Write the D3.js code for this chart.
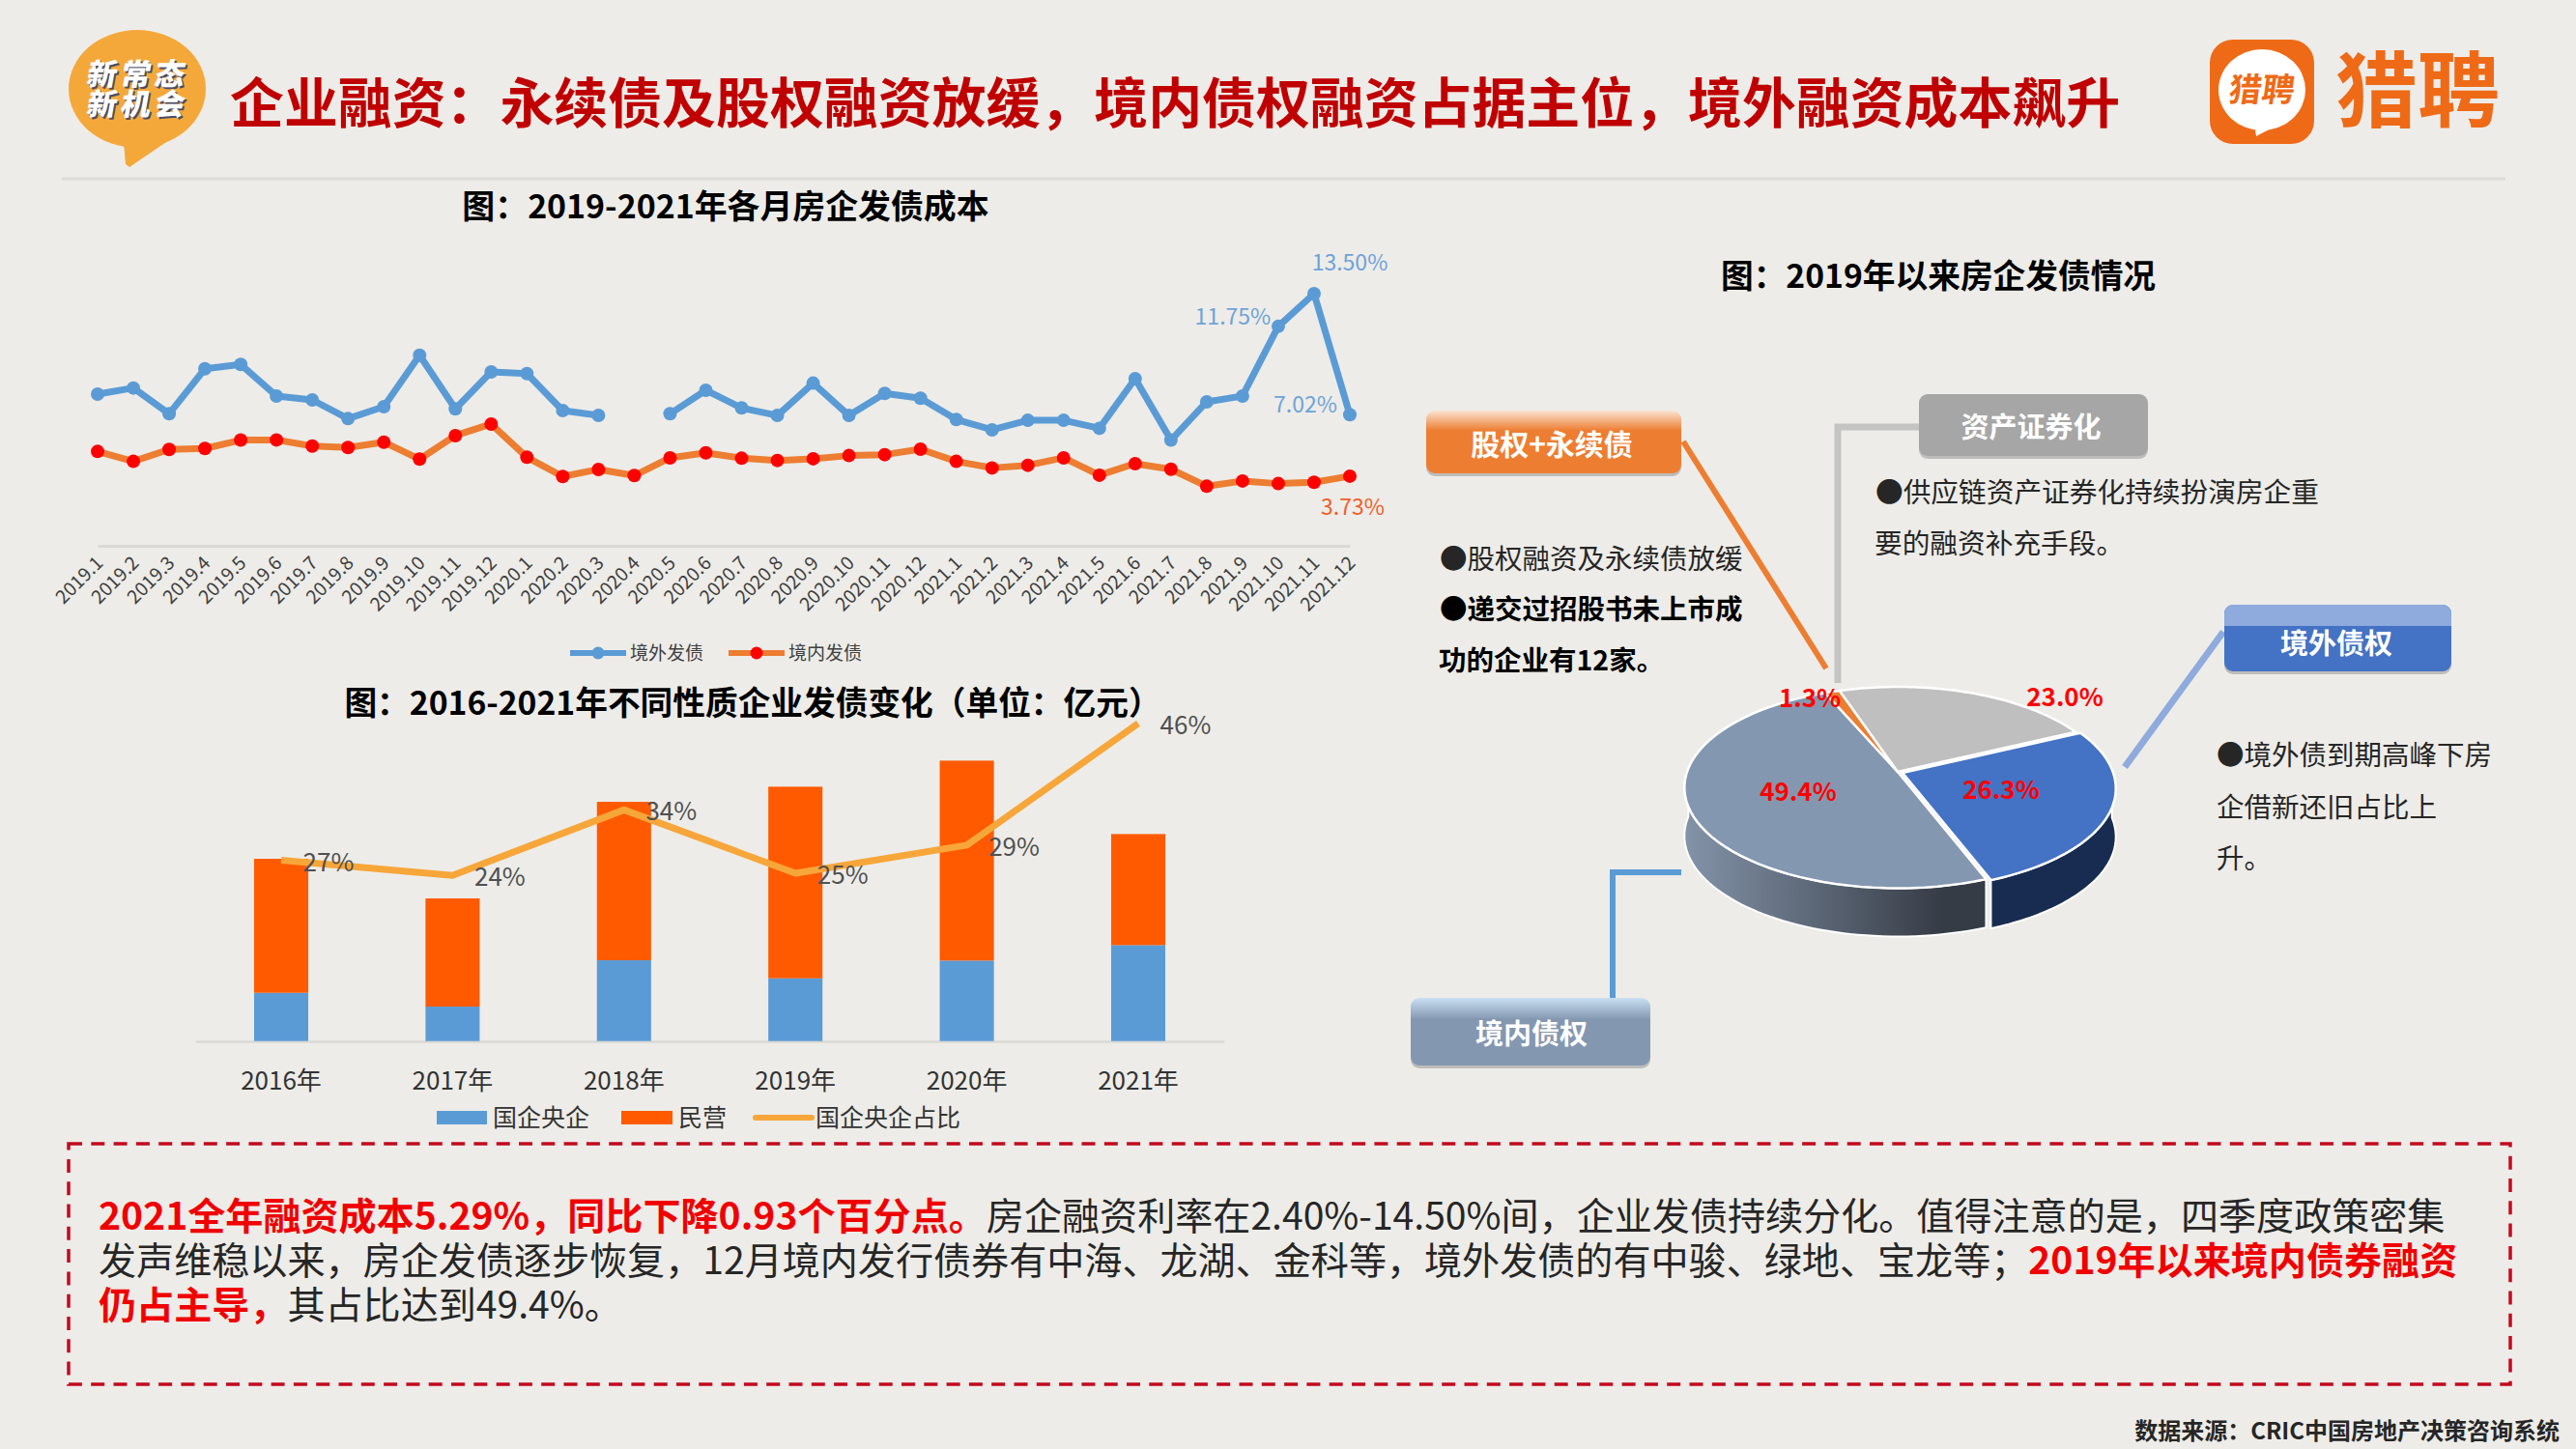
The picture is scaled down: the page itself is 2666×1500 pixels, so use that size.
<!DOCTYPE html>
<html>
<head>
<meta charset="utf-8">
<script src="https://cdnjs.cloudflare.com/ajax/libs/d3/7.8.5/d3.min.js"></script>
<style>
  html, body { margin: 0; padding: 0; background: #edece8; }
  svg { display: block; }
  text { font-family: "Noto Sans CJK SC", sans-serif; }
</style>
</head>
<body>
<svg id="chart" width="2666" height="1500"></svg>
<script>
/// data ///
const months = [
  "2019.1","2019.2","2019.3","2019.4","2019.5","2019.6","2019.7","2019.8","2019.9","2019.10","2019.11","2019.12",
  "2020.1","2020.2","2020.3","2020.4","2020.5","2020.6","2020.7","2020.8","2020.9","2020.10","2020.11","2020.12",
  "2021.1","2021.2","2021.3","2021.4","2021.5","2021.6","2021.7","2021.8","2021.9","2021.10","2021.11","2021.12"
];
const overseasCost = [
  8.12,8.45,7.07,9.48,9.71,8.02,7.81,6.81,7.45,10.2,7.33,9.31,
  9.22,7.24,6.98,null,7.07,8.33,7.38,6.98,8.71,6.98,8.16,7.9,
  6.76,6.21,6.72,6.72,6.29,8.95,5.66,7.71,8.02,11.75,13.5,7.02
];
const domesticCost = [
  5.05,4.52,5.16,5.21,5.66,5.67,5.34,5.26,5.55,4.64,5.9,6.52,
  4.74,3.71,4.09,3.76,4.71,4.98,4.69,4.57,4.66,4.83,4.88,5.17,
  4.52,4.17,4.31,4.71,3.78,4.4,4.1,3.19,3.47,3.33,3.4,3.73
];
const years = ["2016年","2017年","2018年","2019年","2020年","2021年"];
const stateIssue = [1500,1070,2510,1950,2500,2980];
const privateIssue = [4160,3360,4920,5950,6210,3450];
const stateShare = [27,24.9,34,25.2,29.1,46];
const stateShareLabels = ["27%","24%","34%","25%","29%","46%"];
const pieNames = ["境内债权","股权+永续债","资产证券化","境外债权"];
const pieShares = [49.4,1.3,23.0,26.3];

/// colours ///
const bg = "#edece8";
const blue = "#5b9bd5", orange = "#ed7d31", red = "#ff0000", barOrange = "#ff5a00", lineAmber = "#f7a63a";
const pieColors = ["#8497b0", orange, "#bfbfbf", "#4472c4"];

const svg = d3.select("#chart");
svg.append("rect").attr("width", 2666).attr("height", 1500).attr("fill", bg);
const defs = svg.append("defs");

const label = (parent, x, y, str, size, fill, anchor = "middle", weight = 400) =>
  parent.append("text")
    .attr("x", x).attr("y", y).attr("dy", "0.35em")
    .attr("text-anchor", anchor).attr("font-size", size)
    .attr("font-weight", weight).attr("fill", fill)
    .text(str);

/// header ///
const header = svg.append("g");
header.append("ellipse").attr("cx", 142).attr("cy", 92).attr("rx", 71).attr("ry", 61).attr("fill", "#f5a83a");
header.append("path").attr("d", "M128,148 L130,170 L134,173 L178,143 Z").attr("fill", "#f5a83a");
[["新常态", 77], ["新机会", 108]].forEach(([s, y]) => {
  const t = header.append("g").attr("transform", `translate(143,${y}) skewX(-10)`);
  label(t, 2, 2, s, 31, "#4a4f6a", "middle", 900).attr("letter-spacing", 4);
  label(t, 0, 0, s, 31, "#ffffff", "middle", 900).attr("letter-spacing", 4);
});
label(header, 238, 107, "企业融资：永续债及股权融资放缓，境内债权融资占据主位，境外融资成本飙升", 55.9, "#c00000", "start", 700);
header.append("line").attr("x1", 64).attr("x2", 2593).attr("y1", 185).attr("y2", 185)
  .attr("stroke", "#dcdbd7").attr("stroke-width", 3);

// logo
const logoOrange = "#ef6a17";
header.append("rect").attr("x", 2287).attr("y", 41).attr("width", 108).attr("height", 108).attr("rx", 24).attr("fill", logoOrange);
header.append("ellipse").attr("cx", 2341).attr("cy", 93).attr("rx", 45).attr("ry", 42).attr("fill", "#fff");
header.append("path").attr("d", "M2333,128 L2335,141 L2360,128 Z").attr("fill", "#fff");
const logoInner = header.append("g").attr("transform", "translate(2341,93) skewX(-8)");
label(logoInner, 0, 0, "猎聘", 34, logoOrange, "middle", 700);
label(header, 2502, 95, "猎聘", 85, logoOrange, "middle", 700);

/// line chart: monthly cost ///
label(svg, 751, 214, "图：2019-2021年各月房企发债成本", 33.9, "#000", "middle", 700);

const xMonth = d3.scalePoint().domain(months).range([101, 1397]);
const yCost = d3.scaleLinear().domain([0, 13.5]).range([565, 304]);

svg.append("g")
  .attr("transform", "translate(0,565)")
  .call(d3.axisBottom(xMonth).tickSize(0).tickPadding(10))
  .call(g => g.select(".domain").attr("stroke", "#d9d9d6").attr("stroke-width", 3))
  .call(g => g.selectAll(".tick text")
    .attr("font-family", "Noto Sans CJK SC").attr("font-size", 19.5).attr("fill", "#404040")
    .attr("text-anchor", "end").attr("dx", -9).attr("dy", 8)
    .attr("transform", "rotate(-45)"));

const costLine = d3.line()
  .defined(d => d.v !== null)
  .x(d => xMonth(d.m)).y(d => yCost(d.v));

const drawCost = (values, lineColor, dotColor) => {
  const rows = months.map((m, i) => ({ m, v: values[i] }));
  svg.append("path").datum(rows)
    .attr("fill", "none").attr("stroke", lineColor).attr("stroke-width", 7)
    .attr("stroke-linejoin", "round").attr("d", costLine);
  svg.append("g").selectAll("circle")
    .data(rows.filter(d => d.v !== null))
    .join("circle")
      .attr("cx", d => xMonth(d.m)).attr("cy", d => yCost(d.v))
      .attr("r", 7).attr("fill", dotColor);
};
drawCost(overseasCost, blue, blue);
drawCost(domesticCost, orange, red);

label(svg, xMonth("2021.12"), 272, "13.50%", 23, "#6fa3d8");
label(svg, xMonth("2021.10") - 47, 328, "11.75%", 23, "#6fa3d8");
label(svg, xMonth("2021.12") - 46, 419, "7.02%", 23, "#6fa3d8");
label(svg, xMonth("2021.12") + 3, 525, "3.73%", 23, "#f0602a");

const costLegend = [[590, "境外发债", blue, blue], [754, "境内发债", orange, red]];
costLegend.forEach(([x, name, c, dot]) => {
  svg.append("line").attr("x1", x).attr("x2", x + 58).attr("y1", 676).attr("y2", 676)
    .attr("stroke", c).attr("stroke-width", 6);
  svg.append("circle").attr("cx", x + 29).attr("cy", 676).attr("r", 6.5).attr("fill", dot);
  label(svg, x + 62, 676, name, 19, "#404040", "start");
});

/// bar chart: issuance by ownership ///
label(svg, 779, 728, "图：2016-2021年不同性质企业发债变化（单位：亿元）", 33.7, "#000", "middle", 700);

const xYear = d3.scaleBand().domain(years).range([202.3, 1266.7]).paddingInner(0.684).paddingOuter(0.342);
const yIssue = d3.scaleLinear().domain([0, 8710]).range([1077.7, 787.4]);
const yShare = d3.scaleLinear().domain([0, 50]).range([1092, 719]);

svg.append("g")
  .attr("transform", "translate(0,1078)")
  .call(d3.axisBottom(xYear).tickSize(0).tickPadding(32))
  .call(g => g.select(".domain").attr("stroke", "#d9d9d6").attr("stroke-width", 2.5))
  .call(g => g.selectAll(".tick text")
    .attr("font-family", "Noto Sans CJK SC").attr("font-size", 26).attr("fill", "#333"));

const stackRows = years.map((y, i) => ({ year: y, state: stateIssue[i], private: privateIssue[i] }));
const stacked = d3.stack().keys(["state", "private"])(stackRows);
const stackColors = { state: blue, private: barOrange };
svg.append("g").selectAll("g")
  .data(stacked)
  .join("g").attr("fill", d => stackColors[d.key])
  .selectAll("rect")
  .data(d => d)
  .join("rect")
    .attr("x", d => xYear(d.data.year))
    .attr("width", xYear.bandwidth())
    .attr("y", d => yIssue(d[1]))
    .attr("height", d => yIssue(d[0]) - yIssue(d[1]));

const shareRows = years.map((y, i) => ({ y, v: stateShare[i], t: stateShareLabels[i] }));
svg.append("path").datum(shareRows)
  .attr("fill", "none").attr("stroke", lineAmber).attr("stroke-width", 7).attr("stroke-linejoin", "round")
  .attr("d", d3.line().x(d => xYear(d.y) + xYear.bandwidth() / 2).y(d => yShare(d.v)));
shareRows.forEach(d => label(svg, xYear(d.y) + xYear.bandwidth() / 2 + 49, yShare(d.v) + 2, d.t, 26, "#505050"));

const legendY = 1157;
svg.append("rect").attr("x", 452).attr("y", legendY - 7).attr("width", 52).attr("height", 14).attr("fill", blue);
label(svg, 510, legendY, "国企央企", 25, "#333", "start");
svg.append("rect").attr("x", 643).attr("y", legendY - 7).attr("width", 53).attr("height", 14).attr("fill", barOrange);
label(svg, 702, legendY, "民营", 25, "#333", "start");
svg.append("line").attr("x1", 782).attr("x2", 840).attr("y1", legendY).attr("y2", legendY)
  .attr("stroke", lineAmber).attr("stroke-width", 6).attr("stroke-linecap", "round");
label(svg, 844, legendY, "国企央企占比", 25, "#333", "start");

/// 3D pie ///
label(svg, 2006, 286, "图：2019年以来房企发债情况", 33.7, "#000", "middle", 700);

const pieCx = 1964, pieCy = 799, pieRx = 218, pieRy = 101.7, tilt = 0.156, pieDepth = 50;
const project = (a, r = 1, z = 0) => {
  const u = Math.sin(a) * r, v = -Math.cos(a) * r;
  const s = 1 / (1 - tilt * v);
  return [pieCx + pieRx * u * s, pieCy + pieRy * v * s + z];
};
const deg = Math.PI / 180;
const arcs = d3.pie().sort(null).startAngle(159 * deg).endAngle(519 * deg)(pieShares);
const sliceShift = [[0, 0], [0, 0], [0, 0], [5, 1]];
const pathLine = d3.line();
const sampleAngles = (a0, a1) => d3.range(0, 61).map(i => a0 + (a1 - a0) * i / 60);

const wallGrad = defs.append("linearGradient").attr("id", "wallGrad")
  .attr("gradientUnits", "userSpaceOnUse").attr("x1", 1744).attr("x2", 2010).attr("y1", 0).attr("y2", 0);
wallGrad.append("stop").attr("offset", 0).attr("stop-color", "#8393a8");
wallGrad.append("stop").attr("offset", 1).attr("stop-color", "#363c46");

const pieG = svg.append("g");
// walls first, only the front half of the rim shows
[[0, 159, 272, "url(#wallGrad)"], [3, 88, 159, "#172c50"]].forEach(([i, a0, a1, fill]) => {
  const rim = sampleAngles(a0 * deg, a1 * deg);
  const pts = rim.map(a => project(a)).concat(rim.slice().reverse().map(a => project(a, 1, pieDepth)));
  pieG.append("path")
    .attr("transform", `translate(${sliceShift[i]})`)
    .attr("d", pathLine(pts) + "Z").attr("fill", fill)
    .attr("stroke", "#fff").attr("stroke-width", 2).attr("stroke-linejoin", "round");
});
pieG.selectAll("path.slice")
  .data(arcs)
  .join("path").attr("class", "slice")
    .attr("transform", (d, i) => `translate(${sliceShift[i]})`)
    .attr("d", d => pathLine([[pieCx, pieCy]].concat(sampleAngles(d.startAngle, d.endAngle).map(a => project(a)))) + "Z")
    .attr("fill", (d, i) => pieColors[i])
    .attr("stroke", "#fff").attr("stroke-width", 2.5).attr("stroke-linejoin", "round");

const pieLabelAt = [[1861, 820], [1873, 723], [2137, 722], [2071, 818]];
pieShares.forEach((v, i) => label(svg, pieLabelAt[i][0], pieLabelAt[i][1], v.toFixed(1) + "%", 26, "#ff0000", "middle", 700));

/// callouts ///
const polyline = (pts, color, width) => svg.append("path")
  .attr("d", pathLine(pts)).attr("fill", "none").attr("stroke", color).attr("stroke-width", width);
polyline([[1742, 457], [1890, 692]], orange, 6);
polyline([[1986, 442], [1902, 442], [1902, 707]], "#c4c4c2", 7);
polyline([[2301, 654], [2199, 794]], "#8faadc", 7);
polyline([[1740, 903], [1669, 903], [1669, 1033]], blue, 6);

const addGrad = (id, top, color) => {
  const g = defs.append("linearGradient").attr("id", id).attr("x1", 0).attr("x2", 0).attr("y1", 0).attr("y2", 1);
  g.append("stop").attr("offset", 0).attr("stop-color", top);
  g.append("stop").attr("offset", 0.32).attr("stop-color", color);
  g.append("stop").attr("offset", 1).attr("stop-color", color);
};
addGrad("gradEquity", "#fbe3d2", orange);
addGrad("gradDomestic", "#c9e0f4", "#8497b0");

const box = (x0, y0, x1, y1, fill, bandFill) => {
  svg.append("rect").attr("x", x0).attr("y", y0 + 3).attr("width", x1 - x0).attr("height", y1 - y0)
    .attr("rx", 9).attr("fill", "#bdbdbb");
  svg.append("rect").attr("x", x0).attr("y", y0).attr("width", x1 - x0).attr("height", y1 - y0)
    .attr("rx", 9).attr("fill", fill);
  if (bandFill) {
    svg.append("path").attr("fill", bandFill)
      .attr("d", `M${x0},${y0 + 22} V${y0 + 9} a9,9 0 0 1 9,-9 H${x1 - 9} a9,9 0 0 1 9,9 V${y0 + 22} Z`);
  }
};
box(1476, 425, 1740, 490, "url(#gradEquity)");
box(1986, 408, 2223, 472, "#a6a6a6");
box(2302, 626, 2537, 695, "#4472c4", "#8faadc");
box(1460, 1033, 1708, 1103, "url(#gradDomestic)");
[[1606, 460, 30], [2102, 443, 29], [2418, 667, 29], [1585, 1071, 29]].forEach(([x, y, size], k) =>
  label(svg, x, y, pieNames[[1, 2, 3, 0][k]], size, "#fff", "middle", 700));

const noteColor = "#262626";
label(svg, 1490, 579, "●股权融资及永续债放缓", 28.5, noteColor, "start");
label(svg, 1490, 631, "●递交过招股书未上市成", 28.5, "#000", "start", 700);
label(svg, 1489, 684, "功的企业有12家。", 28.5, "#000", "start", 700);
label(svg, 1941, 510, "●供应链资产证券化持续扮演房企重", 28.7, noteColor, "start");
label(svg, 1940, 563, "要的融资补充手段。", 28.7, noteColor, "start");
label(svg, 2294, 782, "●境外债到期高峰下房", 28.5, noteColor, "start");
label(svg, 2294, 836, "企借新还旧占比上", 28.5, noteColor, "start");
label(svg, 2294, 889, "升。", 28.5, noteColor, "start");

/// bottom note ///
svg.append("rect").attr("x", 71).attr("y", 1184).attr("width", 2527).attr("height", 249)
  .attr("fill", "none").attr("stroke", "#c20a1e").attr("stroke-width", 3.5).attr("stroke-dasharray", "14 9.3");

const noteLines = [
  [["2021全年融资成本5.29%，同比下降0.93个百分点。", true], ["房企融资利率在2.40%-14.50%间，企业发债持续分化。值得注意的是，四季度政策密集", false]],
  [["发声维稳以来，房企发债逐步恢复，12月境内发行债券有中海、龙湖、金科等，境外发债的有中骏、绿地、宝龙等；", false], ["2019年以来境内债券融资", true]],
  [["仍占主导，", true], ["其占比达到49.4%。", false]]
];
const noteYs = [1259, 1305, 1351];
noteLines.forEach((runs, i) => {
  const t = svg.append("text").attr("x", 102).attr("y", noteYs[i]).attr("dy", "0.35em").attr("font-size", 39.1);
  runs.forEach(([s, strong]) => t.append("tspan")
    .attr("font-weight", strong ? 700 : 400)
    .attr("fill", strong ? "#f00000" : "#262626")
    .text(s));
});

label(svg, 2649, 1482, "数据来源：CRIC中国房地产决策咨询系统", 24, "#262626", "end", 700);
</script>
</body>
</html>
